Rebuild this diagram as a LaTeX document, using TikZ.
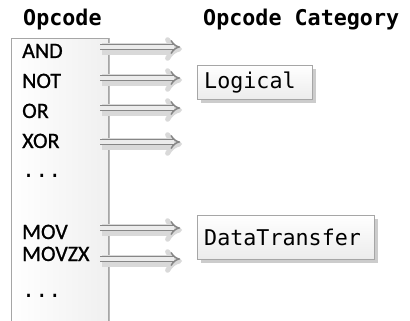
\documentclass[tikz,border=0pt]{standalone}
\usepackage{fontspec}
\setmainfont{Carlito}[FakeBold=0.8]
\newfontfamily\codefont{DejaVu Sans Mono}
\usetikzlibrary{arrows.meta,shadows}

\tikzset{
  heading/.style={font=\codefont\bfseries\fontsize{21.7}{24}\selectfont, anchor=base west, inner sep=0pt},
  opitem/.style={font=\fontsize{22}{24}\selectfont, anchor=base west, inner sep=0pt},
  opdots/.style={font=\codefont\fontsize{21.7}{24}\selectfont, anchor=base west, inner sep=0pt},
  oplistbox/.style={draw=gray!70, left color=white, right color=gray!12, anchor=north west,
    drop shadow={shadow xshift=2pt, shadow yshift=0pt, fill=gray!55, opacity=1}},
  category/.style={draw=gray!70, top color=white, bottom color=gray!15, anchor=north west,
    font=\codefont\fontsize{21.7}{24}\selectfont, align=left, inner xsep=7pt, inner ysep=0pt,
    drop shadow={shadow xshift=4pt, shadow yshift=-4pt, fill=gray!40, opacity=1}},
  link/.style={draw=gray!95, double=gray!15, double distance=3.2pt, line width=1.5pt,
    -{Implies[width=15pt,length=8pt]}},
  linkshadow/.style={draw=gray!30, line width=5pt, -{Implies[width=15pt,length=8pt]}, double=gray!30, double distance=2pt},
}

\begin{document}
\begin{tikzpicture}[x=1pt, y=-1pt]
  \useasboundingbox (0,0) rectangle (410,321);

  % headings
  \node[heading] (opcodehead) at (23,26) {Opcode};
  \node[heading] (categoryhead) at (203,26) {Opcode Category};

  % opcode list
  \node[oplistbox, minimum width=97pt, minimum height=300pt] (oplist) at (11,38) {};
  \foreach \name/\txt/\y in {and/AND/58, not/NOT/88, or/OR/118, xor/XOR/148,
                             mov/MOV/239, movzx/MOVZX/261}
    \node[opitem] (\name) at (22,\y) {\txt};
  \node[opdots] (dotsa) at (22,177) {...};
  \node[opdots] (dotsb) at (22,297) {...};

  % categories
  \node[category, text width=101pt, minimum height=34pt] (logical) at (197,65) {Logical};
  \node[category, text width=163pt, minimum height=44pt] (datatransfer) at (197,215) {DataTransfer};

  % arrows
  \foreach \name/\y in {and/47, not/78, or/108, xor/142, mov/228, movzx/259} {
    \coordinate (\name-out) at (100,\y);
    \coordinate (\name-in) at (180,\y);
    \draw[linkshadow] ([shift={(2,2)}]\name-out) -- ([shift={(2,2)}]\name-in);
  }
  \foreach \name in {and, or, xor, movzx}
    \draw[link] (\name-out) -- (\name-in);
  \draw[link] (not-out) -- ([xshift=-17pt]not-out -| logical.west);
  \draw[link] (mov-out) -- ([xshift=-17pt]mov-out -| datatransfer.west);
\end{tikzpicture}
\end{document}
